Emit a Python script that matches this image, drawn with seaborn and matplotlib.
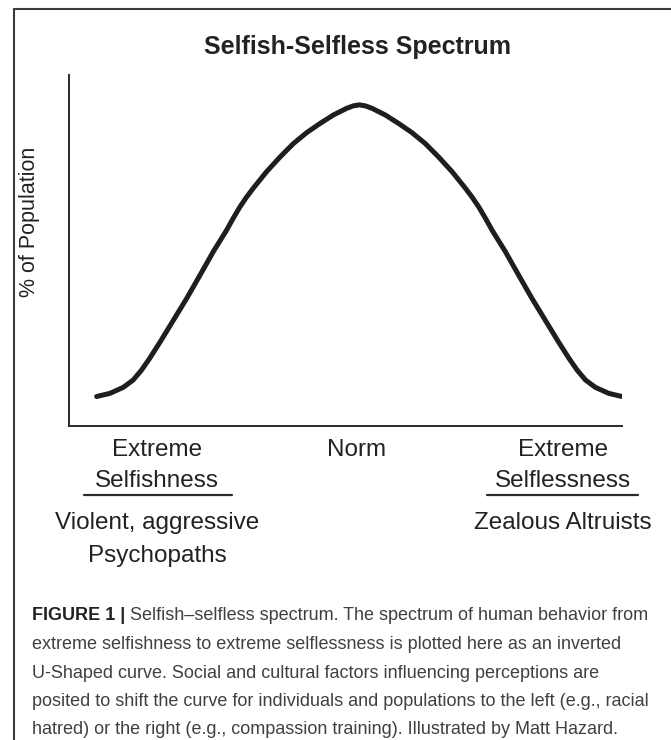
import matplotlib
matplotlib.use("Agg")
import matplotlib.pyplot as plt
from matplotlib.lines import Line2D
import pandas as pd
import seaborn as sns

W, H = 671, 740

# position on the selfish (0) -> selfless (100) scale
spectrum = [5.0, 7.4, 9.8, 11.6, 13.1, 14.6, 16.5, 18.9, 21.3, 23.7, 26.1, 28.5, 29.7, 30.9, 32.1, 33.3,
            35.7, 38.2, 40.6, 43.0, 45.4, 47.8, 50.2, 51.4, 52.5, 53.6,
            54.8, 57.2, 59.6, 62.0, 64.4, 66.8, 69.3, 71.7, 72.9, 74.1, 75.3, 76.5, 78.9, 81.3, 83.7,
            86.1, 88.5, 90.4, 91.9, 93.4, 95.2, 97.6, 100.0]
# share of population (arbitrary 0-100 units)
population = [8.4, 9.3, 11.0, 13.1, 15.9, 19.3, 24.0, 30.2, 36.4, 43.0, 49.7, 55.8, 59.2, 62.4, 65.2, 67.7,
              72.4, 76.7, 80.5, 83.6, 86.2, 88.6, 90.5, 91.2, 91.5, 91.2,
              90.5, 88.6, 86.2, 83.6, 80.5, 76.7, 72.4, 67.7, 65.2, 62.4, 59.2, 55.8, 49.7, 43.0, 36.4,
              30.2, 24.0, 19.3, 15.9, 13.1, 11.0, 9.3, 8.4]

title = "Selfish-Selfless Spectrum"
ylabel = "% of Population"
left_label = ["Extreme", "Selfishness"]
mid_label = "Norm"
right_label = ["Extreme", "Selflessness"]
left_example = ["Violent, aggressive", "Psychopaths"]
right_example = ["Zealous Altruists"]
caption_head = "FIGURE 1 | "
caption_lines = [
    "Selfish\u2013selfless spectrum. The spectrum of human behavior from",
    "extreme selfishness to extreme selflessness is plotted here as an inverted",
    "U-Shaped curve. Social and cultural factors influencing perceptions are",
    "posited to shift the curve for individuals and populations to the left (e.g., racial",
    "hatred) or the right (e.g., compassion training). Illustrated by Matt Hazard.",
]

sns.set_style("white")
plt.rcParams['font.family'] = ['Liberation Sans', 'DejaVu Sans']


def fx(px):
    return px / W


def fy(py):
    return 1 - py / H


fig = plt.figure(figsize=(W / 100, H / 100), dpi=100)
fig.patch.set_facecolor("white")

ax = fig.add_axes([fx(69), fy(426), (622 - 69) / W, (426 - 75) / H])
df = pd.DataFrame({"spectrum": spectrum, "population": population})
sns.lineplot(data=df, x="spectrum", y="population", sort=False, color="#1e1e1e",
             linewidth=3.6, ax=ax, solid_capstyle="round", solid_joinstyle="round")
ax.set_xlim(0, 100)
ax.set_ylim(0, 100)
ax.set_xticks([])
ax.set_yticks([])
ax.set_xlabel("")
ax.set_ylabel("")
sns.despine(ax=ax)
for s in ("left", "bottom"):
    ax.spines[s].set_color("#2a2a2a")
    ax.spines[s].set_linewidth(1.4)

# frame lines (left + top)
fig.add_artist(Line2D([fx(14), fx(14)], [fy(9), 0], color="#3a3a3a", lw=1.5))
fig.add_artist(Line2D([fx(14), 1], [fy(9), fy(9)], color="#3a3a3a", lw=1.5))

fig.text(fx(357), fy(47), title, ha="center", va="center", fontsize=18,
         fontweight="bold", color="#222222")
fig.text(fx(30), fy(222), ylabel, ha="center", va="center", rotation=90,
         fontsize=15.5, color="#222222")

txt = dict(ha="center", va="center", fontsize=17.5, color="#222222")
for i, line in enumerate(left_label):
    fig.text(fx(157), fy(450 + 31 * i), line, **txt)
fig.text(fx(357), fy(450), mid_label, **txt)
for i, line in enumerate(right_label):
    fig.text(fx(563), fy(450 + 31 * i), line, **txt)
for i, line in enumerate(left_example):
    fig.text(fx(157), fy(523 + 33 * i), line, **txt)
for i, line in enumerate(right_example):
    fig.text(fx(563), fy(523 + 33 * i), line, **txt)

fig.add_artist(Line2D([fx(84), fx(232)], [fy(495), fy(495)], color="#2a2a2a", lw=1.6))
fig.add_artist(Line2D([fx(487), fx(638)], [fy(495), fy(495)], color="#2a2a2a", lw=1.6))

# caption
cap = dict(ha="left", va="center", fontsize=13, color="#404040")
head = fig.text(fx(32), fy(616), caption_head, ha="left", va="center", fontsize=13,
                fontweight="bold", color="#222222")
renderer = fig.canvas.get_renderer()
bb = head.get_window_extent(renderer=renderer)
fig.text(bb.x1 / W, fy(616), caption_lines[0], **cap)
for i, line in enumerate(caption_lines[1:], start=1):
    fig.text(fx(32), fy(616 + 28.5 * i), line, **cap)

fig.savefig("out.png", dpi=100)
